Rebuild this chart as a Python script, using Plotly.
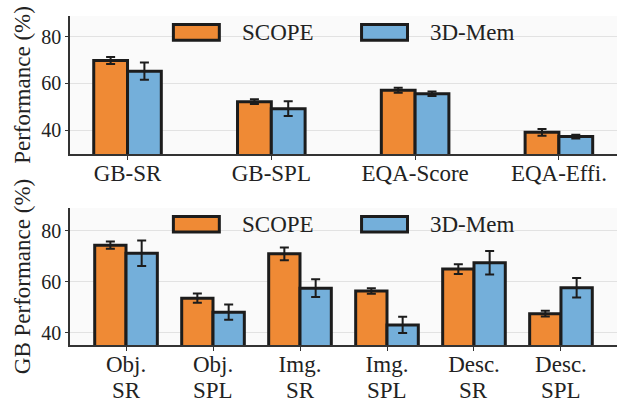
import plotly.graph_objects as go

# ---- data ----
top_categories = ["GB-SR", "GB-SPL", "EQA-Score", "EQA-Effi."]
top_scope = [69.9, 52.2, 57.1, 39.0]
top_scope_err = [1.5, 1.0, 1.1, 1.4]
top_mem = [65.3, 49.2, 55.6, 37.2]
top_mem_err = [3.7, 3.2, 1.0, 0.8]

bottom_line1 = ["Obj.", "Obj.", "Img.", "Img.", "Desc.", "Desc."]
bottom_line2 = ["SR", "SPL", "SR", "SPL", "SR", "SPL"]
bottom_scope = [74.4, 53.6, 71.0, 56.4, 65.0, 47.5]
bottom_scope_err = [1.4, 1.8, 2.5, 1.1, 1.9, 1.1]
bottom_mem = [71.2, 48.1, 57.5, 43.1, 67.5, 57.7]
bottom_mem_err = [5.0, 3.0, 3.5, 3.2, 4.6, 3.8]

series_names = ["SCOPE", "3D-Mem"]
y_ticks = [40, 60, 80]

# ---- style ----
ORANGE = "#EF8A35"
BLUE = "#74AFDA"
EDGE = "#1c1c1c"
FONT = "'Liberation Serif', 'Times New Roman', Times, 'DejaVu Serif', serif"
TXT = "#222222"

fig = go.Figure()

def add_bars(xs, ys, errs, color, name, xa, ya, width, offset):
    fig.add_trace(go.Bar(
        x=list(range(len(xs))), y=ys, name=name,
        width=width, offset=offset,
        marker=dict(color=color, line=dict(color=EDGE, width=3)),
        error_y=dict(type="data", array=errs, visible=True,
                     color=EDGE, thickness=2, width=4.5),
        xaxis=xa, yaxis=ya, showlegend=False, hoverinfo="skip",
    ))

wt = 0.235
add_bars(top_categories, top_scope, top_scope_err, ORANGE, series_names[0], "x", "y", wt, -wt)
add_bars(top_categories, top_mem, top_mem_err, BLUE, series_names[1], "x", "y", wt, 0)
wb = 0.36
add_bars(bottom_line1, bottom_scope, bottom_scope_err, ORANGE, series_names[0], "x2", "y2", wb, -wb)
add_bars(bottom_line1, bottom_mem, bottom_mem_err, BLUE, series_names[1], "x2", "y2", wb, 0)

axis_common = dict(showline=True, linecolor="#333333", linewidth=1.5, ticks="outside",
                   tickcolor="#333333", zeroline=False, mirror=False, automargin=False)

fig.update_layout(
    width=622, height=403,
    margin=dict(l=70, r=5, t=16, b=58),
    paper_bgcolor="white", plot_bgcolor="#FAFAFA",
    barmode="overlay",
    font=dict(family=FONT, color=TXT),
    xaxis=dict(domain=[0, 1], anchor="y", range=[-0.4, 3.404],
               tickmode="array", tickvals=list(range(len(top_categories))),
               ticktext=top_categories, ticklen=4, showgrid=False, ticklabelstandoff=-6,
               tickfont=dict(size=23, family=FONT, color=TXT), **axis_common),
    yaxis=dict(domain=[0.5805, 1], anchor="x", range=[29.7, 89],
               tickvals=y_ticks, ticklen=3, showgrid=True, gridcolor="#E2E2E2", gridwidth=1,
               tickfont=dict(size=20, family=FONT, color=TXT),
               title=dict(text="Performance (%)", font=dict(size=23, family=FONT, color=TXT), standoff=4),
               **axis_common),
    xaxis2=dict(domain=[0, 1], anchor="y2", range=[-0.644, 5.644],
                tickmode="array", tickvals=list(range(len(bottom_line1))),
                ticktext=bottom_line1, ticklen=4, showgrid=False, ticklabelstandoff=-6,
                tickfont=dict(size=23, family=FONT, color=TXT), **axis_common),
    yaxis2=dict(domain=[0, 0.4164], anchor="x2", range=[35.2, 89],
                tickvals=y_ticks, ticklen=3, showgrid=True, gridcolor="#E2E2E2", gridwidth=1,
                tickfont=dict(size=20, family=FONT, color=TXT),
                title=dict(text="GB Performance (%)", font=dict(size=23, family=FONT, color=TXT), standoff=4),
                **axis_common),
)

# second line of bottom category labels
for i, t in enumerate(bottom_line2):
    fig.add_annotation(x=i, xref="x2", y=0, yref="y2 domain", yanchor="top",
                       yshift=-31, text=t, showarrow=False,
                       font=dict(size=23, family=FONT, color=TXT))

# legends (patches + labels) inside each panel
for xr, yr in [("x domain", "y domain"), ("x2 domain", "y2 domain")]:
    for (x0, x1, tx, col, name) in [(0.189, 0.273, 0.311, ORANGE, series_names[0]),
                                    (0.533, 0.617, 0.6545, BLUE, series_names[1])]:
        fig.add_shape(type="rect", xref=xr, yref=yr, x0=x0, x1=x1, y0=0.825, y1=0.938,
                      fillcolor=col, line=dict(color=EDGE, width=3), layer="above")
        fig.add_annotation(xref=xr, yref=yr, x=tx, y=0.88, xanchor="left", yanchor="middle",
                           text=name, showarrow=False,
                           font=dict(size=23, family=FONT, color=TXT))

fig.write_html("out.html", config={"displayModeBar": False},
               post_script="document.body.style.margin='0';document.body.style.overflow='hidden';")
